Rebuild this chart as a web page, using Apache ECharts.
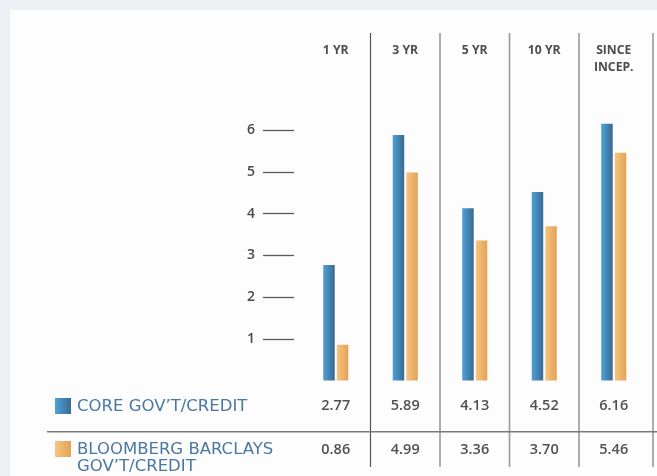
<!DOCTYPE html>
<html>
<head>
<meta charset="utf-8">
<script src="https://cdn.jsdelivr.net/npm/echarts@6/dist/echarts.min.js"></script>
<style>
html,body{margin:0;padding:0;background:#eef0f5;}
#chart{width:657px;height:476px;}
</style>
</head>
<body>
<div id="chart"></div>
<script>
const categories = ['1 YR', '3 YR', '5 YR', '10 YR', 'SINCE\nINCEP.'];
const coreValues = [2.77, 5.89, 4.13, 4.52, 6.16];
const benchValues = [0.86, 4.99, 3.36, 3.70, 5.46];
const seriesNames = ["CORE GOV\u2019T/CREDIT", "BLOOMBERG BARCLAYS\nGOV\u2019T/CREDIT"];
const yTicks = [1, 2, 3, 4, 5, 6];

const FONT = 'Open Sans';
const WIDE = 'DejaVu Sans';
const blueGrad = new echarts.graphic.LinearGradient(0, 0, 1, 0, [
  {offset: 0, color: '#4fa2d8'}, {offset: 1, color: '#3a6990'}
]);
const orangeGrad = new echarts.graphic.LinearGradient(0, 0, 1, 0, [
  {offset: 0, color: '#f7c47f'}, {offset: 1, color: '#e2a257'}
]);

const chart = echarts.init(document.getElementById('chart'), null, {renderer: 'canvas'});

const valueAxisRow = (arr, margin) => ({
  type: 'category', position: 'bottom', data: categories,
  axisLine: {show: false}, axisTick: {show: false}, splitLine: {show: false},
  axisLabel: {
    margin: margin, verticalAlign: 'middle',
    fontFamily: FONT, fontSize: 14.5, fontWeight: 600, color: '#505050',
    formatter: (v, i) => arr[i].toFixed(2)
  }
});

chart.setOption({
  backgroundColor: 'transparent',
  animation: false,
  grid: {left: 301, right: 8.5, top: 88.6, bottom: 95.5, containLabel: false},
  xAxis: [
    {
      type: 'category', position: 'top', data: categories,
      axisLine: {show: false}, axisTick: {show: false}, splitLine: {show: false},
      axisLabel: {
        margin: 46, verticalAlign: 'top', interval: 0,
        fontFamily: FONT, fontSize: 12.2, fontWeight: 'bold', color: '#4d4d4d',
        lineHeight: 16.5
      }
    },
    valueAxisRow(coreValues, 25.5),
    valueAxisRow(benchValues, 69.5)
  ],
  yAxis: {
    type: 'value', min: 0, max: 7, offset: 7,
    axisLine: {show: false},
    splitLine: {show: false},
    axisTick: {show: true, length: 31, customValues: yTicks, lineStyle: {color: '#5a5a5a', width: 1.3}},
    axisLabel: {customValues: yTicks, margin: 39, fontFamily: FONT, fontSize: 14, fontWeight: 600, color: '#4a4a4a'}
  },
  series: [
    {name: seriesNames[0], type: 'bar', data: coreValues, barWidth: 11.5, barGap: '18%',
     itemStyle: {color: blueGrad}},
    {name: seriesNames[1], type: 'bar', data: benchValues, barWidth: 11.5,
     itemStyle: {color: orangeGrad}}
  ]
});

// decorations: panel, separators, table rule, legend rows
const graphics = [
  {type: 'rect', shape: {x: 10, y: 10, width: 660, height: 480}, style: {fill: '#fdfdfd'}, z: -100, silent: true}
];
const c0 = chart.convertToPixel({xAxisIndex: 0}, categories[0]);
const c1 = chart.convertToPixel({xAxisIndex: 0}, categories[1]);
const band = c1 - c0;
categories.forEach((cat, i) => {
  let x = chart.convertToPixel({xAxisIndex: 0}, cat) + band / 2;
  if (i === categories.length - 1) x += 4.5;
  const dark = i === 0;
  graphics.push({
    type: 'line', shape: {x1: x, y1: 33, x2: x, y2: 467},
    style: {stroke: dark ? '#555' : '#9a9a9a', lineWidth: dark ? 1.2 : 1.6}, silent: true
  });
});
graphics.push({type: 'line', shape: {x1: 47, y1: 431.7, x2: 657, y2: 431.7},
  style: {stroke: '#7a7a7a', lineWidth: 1.5}, silent: true});
graphics.push({type: 'rect', shape: {x: 55, y: 398, width: 16, height: 16}, style: {fill: blueGrad}});
graphics.push({type: 'text', x: 77, y: 406.5,
  style: {text: seriesNames[0], fontFamily: WIDE, fontSize: 16.5, fill: '#4a78a3', verticalAlign: 'middle', align: 'left'}});
graphics.push({type: 'rect', shape: {x: 55, y: 441, width: 16, height: 16}, style: {fill: orangeGrad}});
graphics.push({type: 'text', x: 77, y: 440.5,
  style: {text: seriesNames[1], fontFamily: WIDE, fontSize: 16.5, lineHeight: 17.7, fill: '#4a78a3', verticalAlign: 'top', align: 'left'}});

chart.setOption({graphic: graphics});
</script>
</body>
</html>
